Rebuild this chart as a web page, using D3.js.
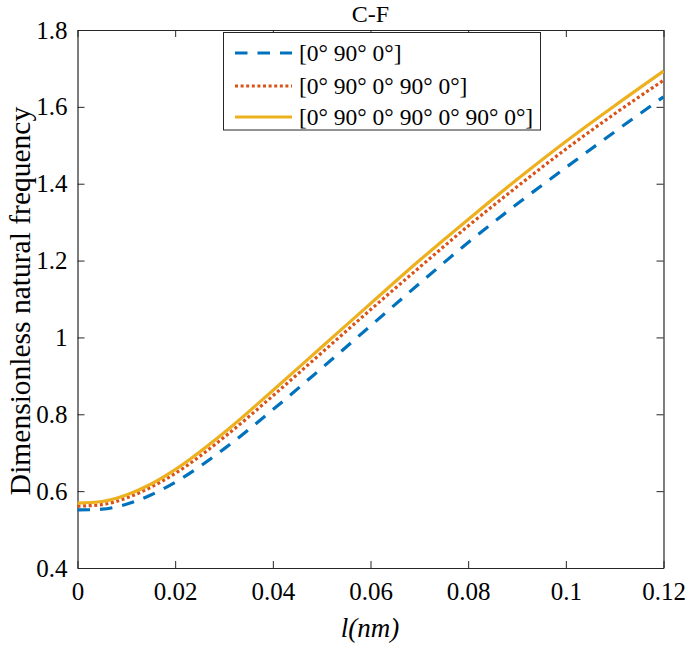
<!DOCTYPE html>
<html>
<head>
<meta charset="utf-8">
<script src="https://cdn.jsdelivr.net/npm/d3@7"></script>
<style>
  body { margin: 0; background: #fff; }
</style>
</head>
<body>
<svg id="chart" width="685" height="645"></svg>
<script>
const lengthScale = [0, 0.005, 0.01, 0.015, 0.02, 0.03, 0.04, 0.05, 0.06, 0.07, 0.08, 0.09, 0.10, 0.11, 0.12];
const freq3Layer = [0.551, 0.553, 0.566, 0.590, 0.623, 0.710, 0.812, 0.920, 1.030, 1.140, 1.247, 1.347, 1.442, 1.535, 1.626];
const freq5Layer = [0.561, 0.565, 0.582, 0.610, 0.646, 0.740, 0.848, 0.960, 1.072, 1.182, 1.290, 1.392, 1.490, 1.582, 1.669];
const freq7Layer = [0.569, 0.573, 0.590, 0.618, 0.656, 0.752, 0.862, 0.975, 1.088, 1.200, 1.307, 1.411, 1.510, 1.603, 1.693];
const seriesNames = ["[0° 90° 0°]", "[0° 90° 0° 90° 0°]", "[0° 90° 0° 90° 0° 90° 0°]"];
const xTicks = [0, 0.02, 0.04, 0.06, 0.08, 0.1, 0.12];
const yTicks = [0.4, 0.6, 0.8, 1, 1.2, 1.4, 1.6, 1.8];

const FONT = "Liberation Serif";
const svg = d3.select("#chart");
const L = 77.5, R = 663.5, T = 30, B = 568;
const x = d3.scaleLinear().domain([0, 0.12]).range([L, R]);
const y = d3.scaleLinear().domain([0.4, 1.8]).range([B, T]);
const axisColor = "#262626";

const fmt = d => String(d);
const gx = svg.append("g").attr("transform", `translate(0,${B})`)
  .call(d3.axisBottom(x).tickValues(xTicks).tickFormat(fmt).tickSizeInner(-7).tickSizeOuter(0).tickPadding(14));
const gxt = svg.append("g").attr("transform", `translate(0,${T})`)
  .call(d3.axisTop(x).tickValues(xTicks).tickFormat("").tickSizeInner(-7).tickSizeOuter(0));
const gy = svg.append("g").attr("transform", `translate(${L},0)`)
  .call(d3.axisLeft(y).tickValues(yTicks).tickFormat(fmt).tickSizeInner(-7).tickSizeOuter(0).tickPadding(10));
const gyr = svg.append("g").attr("transform", `translate(${R},0)`)
  .call(d3.axisRight(y).tickValues(yTicks).tickFormat("").tickSizeInner(-7).tickSizeOuter(0));
[gx, gxt, gy, gyr].forEach(g => {
  g.attr("font-family", FONT).attr("font-size", 25);
  g.selectAll("path.domain").attr("stroke", axisColor).attr("stroke-width", 1.2);
  g.selectAll(".tick line").attr("stroke", axisColor).attr("stroke-width", 1);
  g.selectAll(".tick text").attr("font-family", FONT).attr("font-size", 25).attr("fill", "#000");
});
gx.selectAll(".tick text").attr("dy", "0.71em");

const series = [
  { vals: freq3Layer, color: "#0072BD", dash: "12.5,10" },
  { vals: freq5Layer, color: "#D95319", dash: "3,2.6" },
  { vals: freq7Layer, color: "#EDB120", dash: null }
];
const line = d3.line().x(d => x(d[0])).y(d => y(d[1])).curve(d3.curveMonotoneX);
series.forEach(s => {
  const p = svg.append("path")
    .datum(lengthScale.map((v, i) => [v, s.vals[i]]))
    .attr("d", line).attr("fill", "none")
    .attr("stroke", s.color).attr("stroke-width", 3.2);
  if (s.dash) p.attr("stroke-dasharray", s.dash);
});

const lg = svg.append("g");
lg.append("rect").attr("x", 223.5).attr("y", 32.5).attr("width", 317).attr("height", 97.5)
  .attr("fill", "#fff").attr("stroke", axisColor).attr("stroke-width", 1);
const rowY = [53, 86, 117];
series.forEach((s, i) => {
  const l = lg.append("line").attr("x1", 235).attr("x2", 292).attr("y1", rowY[i]).attr("y2", rowY[i])
    .attr("stroke", s.color).attr("stroke-width", 3.2);
  if (s.dash) l.attr("stroke-dasharray", s.dash);
  lg.append("text").attr("x", 299).attr("y", rowY[i]).attr("dy", "0.35em")
    .attr("font-family", FONT).attr("font-size", 23.5).attr("fill", "#000").text(seriesNames[i]);
});

svg.append("text").attr("x", (L + R) / 2).attr("y", 22).attr("text-anchor", "middle")
  .attr("font-family", FONT).attr("font-size", 24).attr("fill", "#000").text("C-F");
svg.append("text").attr("x", 370).attr("y", 637).attr("text-anchor", "middle")
  .attr("font-family", FONT).attr("font-size", 27).attr("font-style", "italic").attr("fill", "#000").text("l(nm)");
svg.append("text").attr("transform", `translate(30,301) rotate(-90)`)
  .attr("text-anchor", "middle").attr("font-family", FONT).attr("font-size", 29.5).attr("fill", "#000")
  .text("Dimensionless natural frequency");
</script>
</body>
</html>
